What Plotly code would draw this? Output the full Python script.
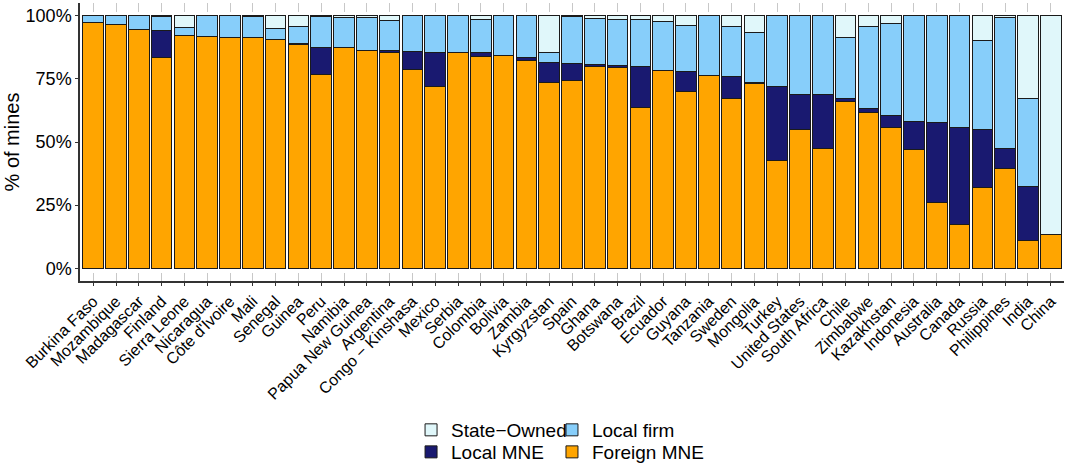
import plotly.graph_objects as go

countries = ["Burkina Faso", "Mozambique", "Madagascar", "Finland", "Sierra Leone", "Nicaragua",
             "Côte d'Ivoire", "Mali", "Senegal", "Guinea", "Peru", "Namibia", "Papua New Guinea",
             "Argentina", "Congo − Kinshasa", "Mexico", "Serbia", "Colombia", "Bolivia", "Zambia",
             "Kyrgyzstan", "Spain", "Ghana", "Botswana", "Brazil", "Ecuador", "Guyana", "Tanzania",
             "Sweden", "Mongolia", "Turkey", "United States", "South Africa", "Chile", "Zimbabwe",
             "Kazakhstan", "Indonesia", "Australia", "Canada", "Russia", "Philippines", "India", "China"]

foreign_mne = [97.1, 96.3, 94.7, 83.5, 92.0, 91.6, 91.2, 91.2, 90.4, 88.4, 76.9, 87.2, 86.4,
               85.3, 78.5, 71.8, 85.6, 83.7, 84.1, 82.1, 73.4, 74.2, 79.8, 79.6, 63.5, 78.4,
               70.1, 76.5, 67.1, 73.0, 42.6, 54.9, 47.3, 65.9, 61.8, 55.6, 47.0, 26.0, 17.5,
               32.1, 39.6, 10.9, 13.3]
local_mne = [0, 0, 0, 10.7, 0, 0, 0, 0, 0, 0.5, 10.6, 0, 0, 0.8, 7.3, 13.8, 0, 1.6, 0, 1.2,
             7.9, 6.7, 0.7, 0.6, 16.5, 0, 7.6, 0, 8.9, 0.5, 29.3, 13.9, 21.5, 1.2, 1.4, 5.0,
             11.1, 31.6, 38.4, 22.7, 7.8, 21.5, 0]
local_firm = [2.9, 3.7, 5.3, 5.5, 3.5, 8.4, 8.8, 8.4, 4.6, 6.9, 12.0, 11.9, 12.9, 12.0, 14.2,
              14.4, 14.4, 13.1, 15.9, 16.7, 4.3, 18.6, 18.2, 18.2, 18.4, 19.1, 18.5, 23.5, 19.9,
              19.8, 28.1, 31.2, 31.2, 24.1, 32.6, 36.4, 41.9, 42.4, 44.1, 35.3, 51.8, 34.8, 0]
state_owned = [0, 0, 0, 0.3, 4.5, 0, 0, 0.4, 5.0, 4.2, 0.5, 0.9, 0.7, 1.9, 0, 0, 0, 1.6, 0, 0,
               14.4, 0.5, 1.3, 1.6, 1.6, 2.5, 3.8, 0, 4.1, 6.7, 0, 0, 0, 8.8, 4.2, 3.0, 0, 0, 0,
               9.9, 0.8, 32.8, 86.7]

y_ticks = [0, 25, 50, 75, 100]
y_tick_labels = ["0%", "25%", "50%", "75%", "100%"]

# (name, values, colour, legend id)
series = [
    ("Foreign MNE", foreign_mne, "#FFA500", "legend4"),
    ("Local MNE", local_mne, "#191970", "legend3"),
    ("Local firm", local_firm, "#87CEFA", "legend2"),
    ("State−Owned", state_owned, "#E0F7FA", "legend"),
]

fig = go.Figure()
for name, vals, color, leg in series:
    fig.add_trace(go.Bar(
        x=countries,
        y=[v if v > 0 else None for v in vals],
        name=name,
        marker=dict(color=color, line=dict(color="#1a1a1a", width=1)),
        legend=leg,
        showlegend=True,
    ))

font_family = "Liberation Sans, Arial, Helvetica, sans-serif"


def leg(x, y):
    return dict(orientation="h", xref="container", yref="container",
                x=x, xanchor="left", y=y, yanchor="middle",
                font=dict(size=19), itemwidth=30, bgcolor="rgba(0,0,0,0)")


fig.update_layout(
    width=1066, height=466,
    showlegend=True,
    barmode="stack",
    bargap=0.1,
    plot_bgcolor="white",
    paper_bgcolor="white",
    margin=dict(l=80, r=2, t=3, b=185, autoexpand=False),
    font=dict(family=font_family, color="black"),
    legend=leg(0.3856, 0.0773),
    legend2=leg(0.5178, 0.0773),
    legend3=leg(0.3856, 0.030),
    legend4=leg(0.5178, 0.030),
    xaxis=dict(
        type="category",
        range=[-0.58, len(countries) - 1 + 0.58],
        tickangle=-45,
        tickfont=dict(size=16, color="black"),
        showgrid=True, gridcolor="#c8c8c8", griddash="dash", gridwidth=1,
        showline=True, linecolor="#333333", linewidth=1.5,
        ticks="outside", ticklen=3, tickcolor="#333333",
        zeroline=False,
    ),
    yaxis=dict(
        range=[-5, 105],
        tickvals=y_ticks, ticktext=y_tick_labels,
        tickfont=dict(size=18, color="black"),
        showgrid=False,
        showline=True, linecolor="#333333", linewidth=1.5,
        ticks="outside", ticklen=3, tickcolor="#333333",
        zeroline=False,
        title=dict(text="% of mines", font=dict(size=20), standoff=1),
    ),
)

fig.write_html("out.html")
